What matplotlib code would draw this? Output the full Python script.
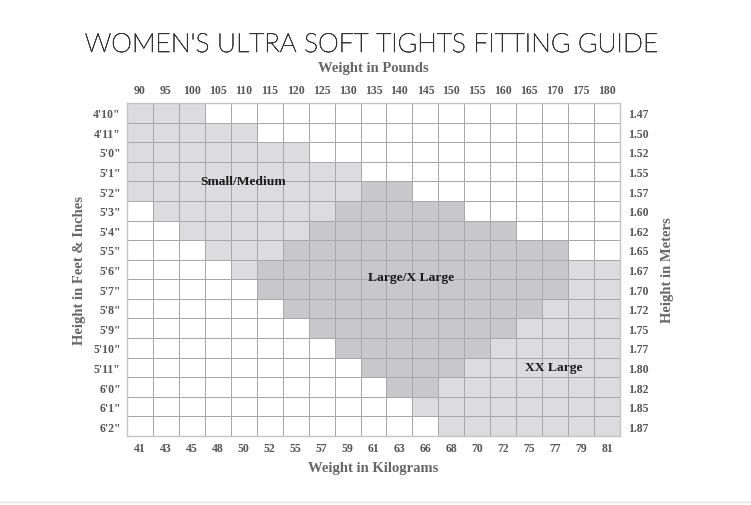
import numpy as np
import matplotlib
matplotlib.use("Agg")
import matplotlib.pyplot as plt
import matplotlib.patheffects as pe
from matplotlib.colors import ListedColormap
from matplotlib.lines import Line2D

# ─── Datos de la tabla de tallas ──────────────────────────────────────────
pounds = [90, 95, 100, 105, 110, 115, 120, 125, 130, 135, 140, 145, 150,
          155, 160, 165, 170, 175, 180]
kilograms = [41, 43, 45, 48, 50, 52, 55, 57, 59, 61, 63, 66, 68, 70, 72,
             75, 77, 79, 81]
feet_inches = ["4'10\"", "4'11\"", "5'0\"", "5'1\"", "5'2\"", "5'3\"", "5'4\"",
               "5'5\"", "5'6\"", "5'7\"", "5'8\"", "5'9\"", "5'10\"", "5'11\"",
               "6'0\"", "6'1\"", "6'2\""]
meters = ["1.47", "1.50", "1.52", "1.55", "1.57", "1.60", "1.62", "1.65",
          "1.67", "1.70", "1.72", "1.75", "1.77", "1.80", "1.82", "1.85", "1.87"]

# S = Small/Medium, L = Large/X Large, X = XX Large, . = sin talla
size_rows = [
    "SSS................",
    "SSSSS..............",
    "SSSSSSS............",
    "SSSSSSSSS..........",
    "SSSSSSSSSLL........",
    ".SSSSSSSLLLLL......",
    "..SSSSSLLLLLLLL....",
    "...SSSLLLLLLLLLLL..",
    "....SLLLLLLLLLLLLXX",
    ".....LLLLLLLLLLLLXX",
    "......LLLLLLLLLLXXX",
    ".......LLLLLLLLXXXX",
    "........LLLLLLXXXXX",
    ".........LLLLXXXXXX",
    "..........LLXXXXXXX",
    "...........XXXXXXXX",
    "............XXXXXXX",
]
size_names = {"S": "Small/Medium", "L": "Large/X Large", "X": "XX Large"}
label_pos = {"S": (4.46, 4.0), "L": (10.96, 8.9), "X": (16.46, 13.5)}

code = {".": 0, "S": 1, "L": 2, "X": 1}
grid = np.array([[code[c] for c in row] for row in size_rows])

# ─── Figura ────────────────────────────────────────────────────────────────
fig = plt.figure(figsize=(7.51, 5.06), dpi=100, facecolor="white")
ax = fig.add_axes([127 / 751, 1 - 437 / 506, 493 / 751, 333 / 506])

cmap = ListedColormap(["#ffffff", "#dcdcde", "#c8c8ca"])
ncol, nrow = len(pounds), len(feet_inches)
ax.pcolormesh(np.arange(ncol + 1), np.arange(nrow + 1), grid,
              cmap=cmap, vmin=0, vmax=2, edgecolor="#a8a8a8", linewidth=0.6)
ax.set_xlim(0, ncol)
ax.set_ylim(nrow, 0)
for s in ax.spines.values():
    s.set_color("#c4c4c4")
    s.set_linewidth(1.0)

serif = ["Liberation Serif", "DejaVu Serif"]
tick_kw = dict(fontsize=8.5, fontweight="bold", color="#555555", family=serif)

ax.set_xticks(np.arange(ncol) + 0.5)
ax.set_xticklabels([str(k) for k in kilograms], **tick_kw)
ax.set_yticks(np.arange(nrow) + 0.5)
ax.set_yticklabels(feet_inches, **tick_kw)
ax.tick_params(axis="x", length=0, pad=4.2)
ax.tick_params(axis="y", length=0, pad=4.5)

top = ax.secondary_xaxis("top")
top.set_xticks(np.arange(ncol) + 0.5)
top.set_xticklabels([str(p) for p in pounds], **tick_kw)
top.tick_params(length=0, pad=5)
top.spines["top"].set_visible(False)

right = ax.secondary_yaxis("right")
right.set_yticks(np.arange(nrow) + 0.5)
right.set_yticklabels(meters, **tick_kw)
right.tick_params(length=0, pad=5.5)
right.spines["right"].set_visible(False)

lab_kw = dict(fontsize=10.5, fontweight="bold", color="#666666", family=serif)
top.set_xlabel("Weight in Pounds", labelpad=9.5, **lab_kw)
ax.set_xlabel("Weight in Kilograms", labelpad=5, **lab_kw)
ax.set_ylabel("Height in Feet & Inches", labelpad=5, **lab_kw)
right.set_ylabel("Height in Meters", labelpad=9, **lab_kw)

for key, (cx, cy) in label_pos.items():
    ax.text(cx, cy, size_names[key], ha="center", va="center",
            fontsize=9.7, fontweight="bold", color="#1a1a1a", family=serif)

fig.text(0.494, 1 - 46 / 506, "WOMEN'S ULTRA SOFT TIGHTS FITTING GUIDE",
         ha="center", va="center", fontsize=19, color="#333333",
         family=["Lato", "DejaVu Sans"], fontweight="light",
         path_effects=[pe.withStroke(linewidth=0.5, foreground="#333333")])

fig.add_artist(Line2D([0, 1], [1 - 503 / 506] * 2, color="#e2e2e2",
                      linewidth=1.0, transform=fig.transFigure))

plt.savefig("out.png", dpi=100, facecolor="white")
